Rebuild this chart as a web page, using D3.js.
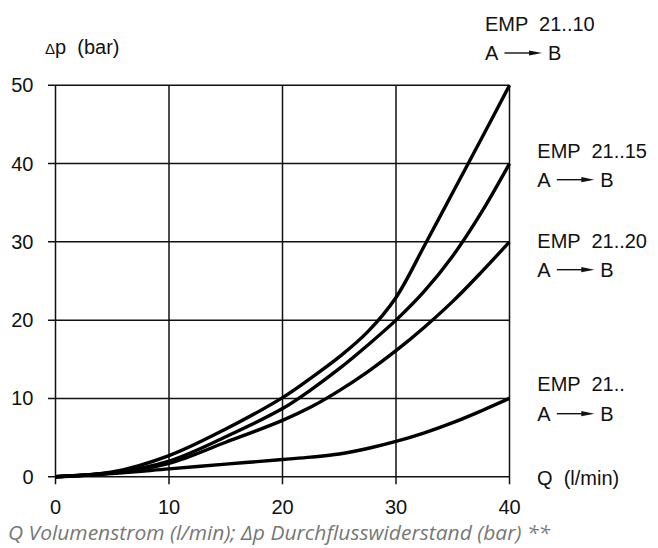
<!DOCTYPE html>
<html>
<head>
<meta charset="utf-8">
<script src="https://cdn.jsdelivr.net/npm/d3@7"></script>
<style>
  html, body { margin: 0; padding: 0; background: #fff; }
  svg { display: block; }
</style>
</head>
<body>
<svg id="chart" width="658" height="548"></svg>
<script>
// ---- data ----
const qValues   = [0, 5, 10, 15, 20, 22.5, 25, 27.5, 30, 32.5, 35, 37.5, 40];
const emp2110   = [0, 0.6, 2.7, 6.1, 10.1, 12.6, 15.3, 18.5, 22.9, 29.5, 36.3, 43.1, 50];
const emp2115   = [0, 0.5, 2.0, 5.1, 8.7, 11.1, 13.8, 16.8, 20.0, 23.7, 28.2, 33.7, 40];
const emp2120   = [0, 0.5, 1.7, 4.4, 7.2, 8.9, 11.0, 13.4, 16.1, 19.1, 22.4, 26.1, 30];
const emp21     = [0, 0.4, 1.0, 1.6, 2.2, 2.5, 2.9, 3.6, 4.5, 5.6, 6.9, 8.4, 10];
const seriesNames = ["EMP  21..10", "EMP  21..15", "EMP  21..20", "EMP  21.."];
const xTicks = [0, 10, 20, 30, 40];
const yTicks = [0, 10, 20, 30, 40, 50];
const yAxisTitle = "p  (bar)";
const xAxisTitle = "Q  (l/min)";
const caption = "Q Volumenstrom (l/min); \u0394p Durchflusswiderstand (bar) **";

const svg = d3.select("#chart");
const x = d3.scaleLinear().domain([0, 40]).range([55.5, 509.5]);
const y = d3.scaleLinear().domain([0, 50]).range([476.7, 85.3]);
const ink = "#111";
const font = "'Liberation Sans', Arial, sans-serif";

// grid
const g = svg.append("g");
g.selectAll("line.v").data(xTicks).join("line")
  .attr("x1", d => x(d)).attr("x2", d => x(d))
  .attr("y1", y(50)).attr("y2", y(0) + 7.5)
  .attr("stroke", ink).attr("stroke-width", 1.5);
g.selectAll("line.h").data(yTicks).join("line")
  .attr("y1", d => y(d)).attr("y2", d => y(d))
  .attr("x1", x(0) - 7.5).attr("x2", x(40))
  .attr("stroke", ink).attr("stroke-width", 1.5);

// tick labels
g.selectAll("text.yt").data(yTicks).join("text")
  .attr("x", 33.5).attr("y", d => y(d) + 7)
  .attr("text-anchor", "end").attr("font-family", font).attr("font-size", 20)
  .attr("fill", ink).text(d => d);
g.selectAll("text.xt").data(xTicks).join("text")
  .attr("x", d => x(d)).attr("y", 513.5)
  .attr("text-anchor", "middle").attr("font-family", font).attr("font-size", 20)
  .attr("fill", ink).text(d => d);

// axis titles
const yt = svg.append("text").attr("x", 45).attr("y", 54)
  .attr("font-family", font).attr("font-size", 20).attr("fill", ink)
  .attr("xml:space", "preserve");
yt.append("tspan").attr("font-size", 15).text("\u0394");
yt.append("tspan").text(yAxisTitle);
svg.append("text").attr("x", 537).attr("y", 485)
  .attr("font-family", font).attr("font-size", 20).attr("fill", ink)
  .attr("xml:space", "preserve").text(xAxisTitle);

// curves
const seriesData = [emp2110, emp2115, emp2120, emp21];
const line = d3.line().x((d, i) => x(qValues[i])).y(d => y(d)).curve(d3.curveCatmullRom.alpha(0.5));
svg.append("g").selectAll("path").data(seriesData).join("path")
  .attr("d", d => line(d)).attr("fill", "none")
  .attr("stroke", "#000").attr("stroke-width", 3.4).attr("stroke-linejoin", "round");

// series labels
const labelPos = [[485, 30.7, 60], [537.3, 158.3, 186.7], [537.3, 248.3, 276.7], [537.3, 390.7, 420.7]];
const lab = svg.append("g");
seriesNames.forEach((name, i) => {
  const [lx, ly1, ly2] = labelPos[i];
  lab.append("text").attr("x", lx).attr("y", ly1)
    .attr("font-family", font).attr("font-size", 20).attr("fill", ink)
    .attr("xml:space", "preserve").text(name);
  lab.append("text").attr("x", lx).attr("y", ly2)
    .attr("font-family", font).attr("font-size", 20).attr("fill", ink).text("A");
  lab.append("line").attr("x1", lx + 19.5).attr("x2", lx + 46)
    .attr("y1", ly2 - 7).attr("y2", ly2 - 7).attr("stroke", ink).attr("stroke-width", 1.4);
  lab.append("path")
    .attr("d", `M${lx + 44},${ly2 - 9.6} L${lx + 57},${ly2 - 7} L${lx + 44},${ly2 - 4.4} Z`)
    .attr("fill", ink);
  lab.append("text").attr("x", lx + 63).attr("y", ly2)
    .attr("font-family", font).attr("font-size", 20).attr("fill", ink).text("B");
});

// caption
svg.append("text").attr("x", 8).attr("y", 540)
  .attr("font-family", "'Open Sans', sans-serif").attr("font-style", "italic")
  .attr("font-size", 20).attr("textLength", 542).attr("lengthAdjust", "spacingAndGlyphs")
  .attr("fill", "#777").text(caption);
</script>
</body>
</html>
